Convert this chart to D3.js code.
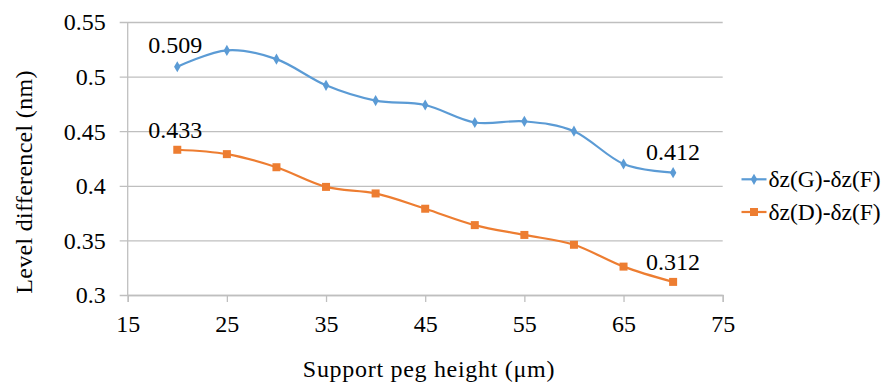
<!DOCTYPE html>
<html><head><meta charset="utf-8">
<script src="https://cdn.jsdelivr.net/npm/d3@7"></script>
<style>body{margin:0;background:#fff}svg{display:block}</style>
</head><body><svg id="c" width="891" height="385"></svg>
<script>
const xValues = [20,25,30,35,40,45,50,55,60,65,70];
const seriesNames = ["δz(G)-δz(F)","δz(D)-δz(F)"];
const seriesG = [0.509,0.524,0.516,0.492,0.478,0.474,0.458,0.459,0.450,0.420,0.412];
const seriesD = [0.433,0.429,0.417,0.399,0.393,0.379,0.364,0.355,0.346,0.326,0.312];
const xTicks = [15,25,35,45,55,65,75];
const yTicks = [0.3,0.35,0.4,0.45,0.5,0.55];
const xTitle = "Support peg height (μm)";
const yTitle = "Level differencel (nm)";
const labeled = [{s:0,i:0,t:"0.509"},{s:0,i:10,t:"0.412"},{s:1,i:0,t:"0.433"},{s:1,i:10,t:"0.312"}];

const FF = "'Times New Roman', 'Liberation Serif', 'DejaVu Serif', serif";
const svg = d3.select("#c");
const x = d3.scaleLinear().domain([15,75]).range([127.7,722.7]);
const y = d3.scaleLinear().domain([0.3,0.55]).range([295,22]);
const colors = ["#5B9BD5","#ED7D31"];
const grid = "#BFBFBF";
const fs = 24;

const yAxis = svg.append("g").attr("transform","translate(127.7,0)")
  .call(d3.axisLeft(y).tickValues(yTicks).tickSize(8).tickFormat(d=>String(+d.toFixed(2))));
yAxis.attr("font-family",FF);
yAxis.select(".domain").remove();
yAxis.selectAll(".tick line").attr("stroke",grid).attr("x2",595).attr("x1",-8).attr("stroke-width",1.3);
yAxis.selectAll(".tick text").attr("x",-22).attr("font-size",fs).attr("dy","0.33em").attr("fill","#000");

svg.append("line").attr("x1",127.7).attr("x2",127.7).attr("y1",22).attr("y2",295).attr("stroke",grid).attr("stroke-width",1.3);

const xAxis = svg.append("g").attr("transform","translate(0,295)")
  .call(d3.axisBottom(x).tickValues(xTicks).tickSize(7).tickFormat(d3.format("d")));
xAxis.attr("font-family",FF);
xAxis.select(".domain").attr("stroke",grid).attr("stroke-width",1.3);
xAxis.selectAll(".tick line").attr("stroke",grid).attr("stroke-width",1.3);
xAxis.selectAll(".tick text").attr("y",0).attr("dy",null).attr("transform","translate(0,37)").attr("font-size",fs).attr("fill","#000");

const data = [seriesG, seriesD];
const line = d3.line().x((d,i)=>x(xValues[i])).y(d=>y(d)).curve(d3.curveCardinal.tension(0));
data.forEach((s,k)=>{
  svg.append("path").datum(s).attr("d",line).attr("fill","none").attr("stroke",colors[k]).attr("stroke-width",2.2);
});
svg.selectAll(".mg").data(seriesG).join("path").attr("class","mg")
  .attr("d",d3.symbol(d3.symbolDiamond,36)())
  .attr("transform",(d,i)=>`translate(${x(xValues[i])},${y(d)})`).attr("fill",colors[0]);
svg.selectAll(".md").data(seriesD).join("rect").attr("class","md")
  .attr("x",(d,i)=>x(xValues[i])-4).attr("y",d=>y(d)-4).attr("width",8).attr("height",8).attr("fill",colors[1]);

labeled.forEach(l=>{
  const v = data[l.s][l.i];
  const dy = l.s===0 ? (l.i===0 ? -14 : -13) : -12;
  svg.append("text").attr("x",x(xValues[l.i]) - (l.i===0?2:0)).attr("y",y(v)+dy)
    .attr("text-anchor","middle").attr("font-size",fs).attr("font-family",FF).text(l.t);
});

svg.append("text").attr("x",429).attr("y",377).attr("text-anchor","middle").attr("font-size",24)
  .attr("letter-spacing","0.7px").attr("font-family",FF).text(xTitle);
svg.append("text").attr("transform","translate(32,182) rotate(-90)").attr("text-anchor","middle").attr("font-size",24)
  .attr("letter-spacing","0.3px").attr("font-family",FF).text(yTitle);

const lg = svg.append("g");
[0,1].forEach(k=>{
  const cy = k===0?179.3:212;
  lg.append("line").attr("x1",741.5).attr("x2",766.5).attr("y1",cy).attr("y2",cy).attr("stroke",colors[k]).attr("stroke-width",2.2);
  if(k===0) lg.append("path").attr("d",d3.symbol(d3.symbolDiamond,36)()).attr("transform",`translate(754,${cy})`).attr("fill",colors[0]);
  else lg.append("rect").attr("x",750).attr("y",cy-4).attr("width",8).attr("height",8).attr("fill",colors[1]);
  lg.append("text").attr("x",768.5).attr("y",cy+7.5).attr("font-size",23.5).attr("font-family",FF).text(seriesNames[k]);
});
</script></body></html>
